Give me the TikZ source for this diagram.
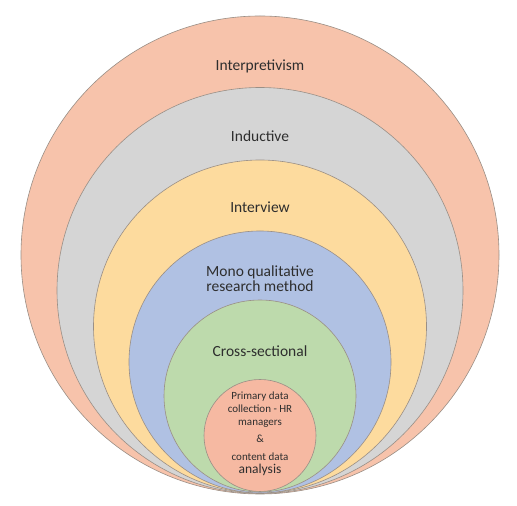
\documentclass[tikz,border=0pt]{standalone}
\usepackage{fontspec}
\setmainfont{Carlito}
\definecolor{salmon}{HTML}{F7C3AB}
\definecolor{greyring}{HTML}{D5D5D5}
\definecolor{sand}{HTML}{FDDB9E}
\definecolor{bluering}{HTML}{B0C1E3}
\definecolor{greenring}{HTML}{BDDAAC}
\definecolor{core}{HTML}{F6B9A2}
\definecolor{rim}{HTML}{9A8F86}
\definecolor{ink}{HTML}{2E2E2E}
\tikzset{ring/.style={draw=rim, line width=0.6pt},
  lbl/.style={text=ink, font=\fontsize{15.5}{15}\selectfont, align=center, inner sep=0pt}}

\begin{document}
\begin{tikzpicture}[x=1pt,y=1pt]
\useasboundingbox (0,0) rectangle (517,506);
\fill[white] (0,0) rectangle (517,506);
\draw[ring, fill=salmon] (260,251) circle (239);
\draw[ring, fill=greyring] (260,215.5) circle (203);
\draw[ring, fill=sand] (260,179.5) circle (166.5);
\draw[ring, fill=bluering] (260,144) circle (131);
\draw[ring, fill=greenring] (260,110) circle (96);
\draw[ring, fill=core] (260,70.5) circle (56);
\node[lbl] (interp) at (260,440) {Interpretivism};
\node[lbl] (induct) at (260,370) {Inductive};
\node[lbl] (intview) at (260,299) {Interview};
\node[lbl] (mono) at (260,227) {Mono qualitative\\research method};
\node[lbl] (cross) at (260,155) {Cross-sectional};
\node[text=ink, align=center, inner sep=0pt, font=\fontsize{11}{12.5}\selectfont] (primary) at (260,72)
  {Primary data\\[0pt] collection - HR\\[0.5pt] managers\\[4.5pt] \&\\[5.5pt] content data\\[0.5pt] {\fontsize{13.5}{12.5}\selectfont analysis}};
\end{tikzpicture}
\end{document}
